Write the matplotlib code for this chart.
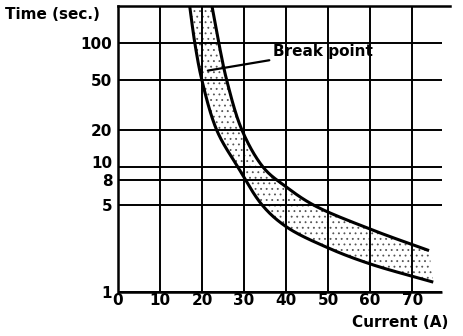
import numpy as np
import matplotlib.pyplot as plt
from matplotlib.transforms import ScaledTranslation

# ===== DATA =====
upper_x = [22.4, 24.0, 25.9, 29.5, 34.6, 40.0, 46.5, 60.0, 74.0]
upper_t = [196, 100, 50, 20, 10, 7.0, 5, 3.2, 2.15]
lower_x = [17.1, 18.3, 20.0, 23.5, 28.6, 34.3, 40.0, 50.0, 60.0, 75.0]
lower_t = [196, 100, 50, 20, 10, 5, 3.35, 2.26, 1.68, 1.2]

x_ticks = [0, 10, 20, 30, 40, 50, 60, 70]
y_ticks = [1, 5, 8, 10, 20, 50, 100]
y_labels = ["1", "5", "8", "10", "20", "50", "100"]

break_xy = (21.4, 60)
break_text_xy = (37.0, 86)

# ===== SETUP =====
plt.rcParams['font.family'] = ['DejaVu Sans']
plt.rcParams['font.weight'] = 'bold'
plt.rcParams['hatch.color'] = '#555555'
plt.rcParams['hatch.linewidth'] = 0.6

fig = plt.figure(figsize=(4.64, 3.36), dpi=100)
ax = fig.add_axes([0.254, 0.131, 0.716, 0.851])
ax.set_yscale('log')
ax.set_xlim(0, 79)
ax.set_ylim(1, 198)

lw_grid = 1.4
ax.vlines(x_ticks[1:], 1, 198, color='black', lw=lw_grid)
ax.hlines(y_ticks, 0, 77, color='black', lw=lw_grid)


# centripetal Catmull-Rom through the read points, in (x, log t) space
def smooth(xs, ts, n=30):
    p = np.column_stack([np.asarray(xs) / 20.0, np.log10(ts)])
    p = np.vstack([2 * p[0] - p[1], p, 2 * p[-1] - p[-2]])
    out = []
    for i in range(1, len(p) - 2):
        p0, p1, p2, p3 = p[i - 1], p[i], p[i + 1], p[i + 2]
        t0 = 0.0
        t1 = t0 + np.linalg.norm(p1 - p0) ** 0.5
        t2 = t1 + np.linalg.norm(p2 - p1) ** 0.5
        t3 = t2 + np.linalg.norm(p3 - p2) ** 0.5
        t = np.linspace(t1, t2, n, endpoint=False)[:, None]
        a1 = (t1 - t) / (t1 - t0) * p0 + (t - t0) / (t1 - t0) * p1
        a2 = (t2 - t) / (t2 - t1) * p1 + (t - t1) / (t2 - t1) * p2
        a3 = (t3 - t) / (t3 - t2) * p2 + (t - t2) / (t3 - t2) * p3
        b1 = (t2 - t) / (t2 - t0) * a1 + (t - t0) / (t2 - t0) * a2
        b2 = (t3 - t) / (t3 - t1) * a2 + (t - t1) / (t3 - t1) * a3
        out.append((t2 - t) / (t2 - t1) * b1 + (t - t1) / (t2 - t1) * b2)
    out.append(p[-2][None, :])
    out = np.vstack(out)
    return out[:, 0] * 20.0, 10 ** out[:, 1]


ux, ut = smooth(upper_x, upper_t)
lx, lt = smooth(lower_x, lower_t)

# stippled band between the curves
ax.fill(np.concatenate([ux, lx[::-1]]), np.concatenate([ut, lt[::-1]]),
        facecolor='none', hatch='...', lw=0)

ax.plot(ux, ut, color='black', lw=2.2, solid_capstyle='butt')
ax.plot(lx, lt, color='black', lw=2.2, solid_capstyle='butt')

ax.annotate("Break point", xy=break_xy, xytext=break_text_xy,
            fontsize=11, fontweight='bold', va='center', ha='left',
            arrowprops=dict(arrowstyle='-', color='black', lw=1.6,
                            shrinkA=1, shrinkB=0))

# axes frame
for side in ['right', 'bottom']:
    ax.spines[side].set_visible(False)
ax.spines['left'].set_linewidth(1.8)
ax.spines['top'].set_linewidth(1.8)
ax.hlines(1, 0, 77, color='black', lw=1.8, clip_on=False)

ax.set_xticks(x_ticks)
ax.set_xticklabels([str(v) for v in x_ticks], fontsize=11, fontweight='bold')
ax.set_yticks(y_ticks)
ax.set_yticklabels(y_labels, fontsize=11, fontweight='bold')
ax.yaxis.set_minor_locator(plt.NullLocator())
ax.tick_params(length=0, pad=4)
ax.tick_params(axis='x', pad=1)
for lab in ax.get_yticklabels():
    if lab.get_text() == "10":
        lab.set_transform(lab.get_transform() + ScaledTranslation(0, 4 / 72, fig.dpi_scale_trans))

fig.text(0.011, 0.958, "Time (sec.)", fontsize=11, fontweight='bold', va='center', ha='left')
fig.text(0.966, 0.04, "Current (A)", fontsize=11, fontweight='bold', va='center', ha='right')

fig.savefig("out.png", dpi=100)
